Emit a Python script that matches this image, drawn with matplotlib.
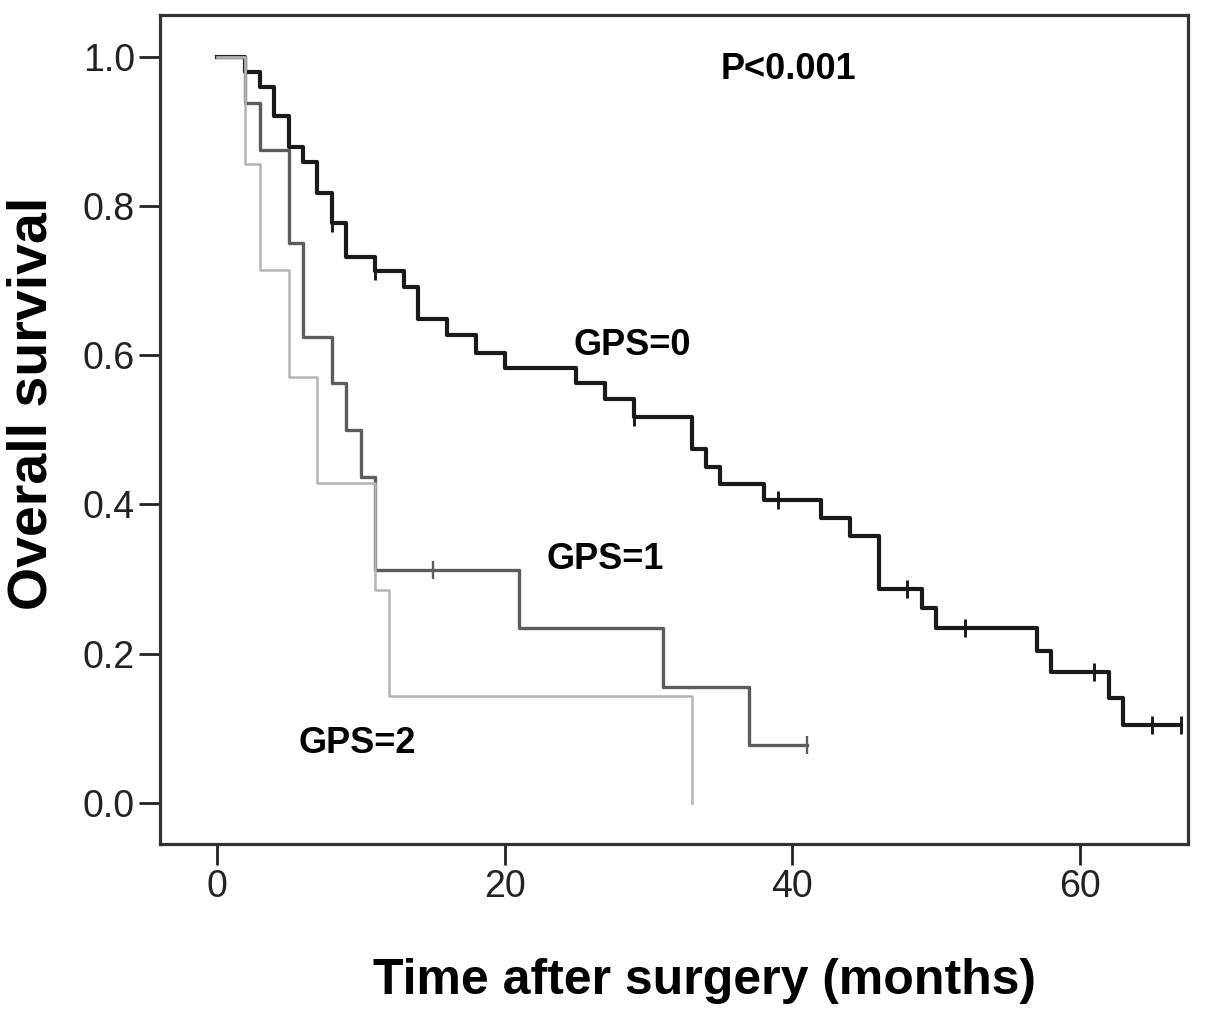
import numpy as np
import matplotlib
matplotlib.use('Agg')
import matplotlib.pyplot as plt

plt.rcParams['font.family'] = ['Liberation Sans', 'DejaVu Sans']

# Kaplan-Meier curves (months, survival after each event)
gps0_times = [2, 3, 4, 5, 6, 7, 8, 9, 11, 13, 14, 16, 18, 20, 25, 27, 29, 33, 34, 35,
              38, 42, 44, 46, 49, 50, 57, 58, 62, 63]
gps0_surv = [0.98, 0.96, 0.92, 0.879, 0.859, 0.818, 0.777, 0.732, 0.713, 0.692, 0.649,
             0.627, 0.603, 0.583, 0.563, 0.542, 0.517, 0.475, 0.450, 0.428,
             0.406, 0.382, 0.358, 0.287, 0.261, 0.235, 0.204, 0.176, 0.141, 0.105]
gps0_censor = [8, 11, 29, 39, 48, 52, 61, 65, 67]
gps0_end = 67

gps1_times = [2, 3, 5, 6, 8, 9, 10, 11, 21, 31, 37]
gps1_surv = [0.9375, 0.875, 0.75, 0.625, 0.5625, 0.5, 0.4375, 0.3125, 0.234, 0.156, 0.078]
gps1_censor = [15, 41]
gps1_end = 41

gps2_times = [2, 3, 5, 7, 11, 12, 33]
gps2_surv = [0.857, 0.714, 0.571, 0.429, 0.286, 0.143, 0.0]
gps2_censor = []
gps2_end = 33

curves = [
    ('GPS=0', gps0_times, gps0_surv, gps0_censor, gps0_end, '#1a1a1a', 3.0),
    ('GPS=1', gps1_times, gps1_surv, gps1_censor, gps1_end, '#5c5c5c', 2.4),
    ('GPS=2', gps2_times, gps2_surv, gps2_censor, gps2_end, '#b4b4b4', 1.8),
]


def km_at(times, surv, t):
    s = 1.0
    for ti, si in zip(times, surv):
        if ti <= t:
            s = si
    return s


fig = plt.figure(figsize=(12.05, 10.22), dpi=100)
ax = fig.add_axes([0.1328, 0.1742, 0.8531, 0.8111])

for z, (name, times, surv, cens, tend, col, lw) in enumerate(curves):
    x = np.r_[0, times, tend]
    y = np.r_[1.0, surv, surv[-1]]
    ax.step(x, y, where='post', color=col, lw=lw, zorder=2 + z)
    if cens:
        cy = [km_at(times, surv, c) for c in cens]
        ax.plot(cens, cy, ls='none', marker='|', ms=13, mew=lw * 0.7,
                color=col, zorder=2 + z)

ax.set_xlim(-3.94, 67.5)
ax.set_ylim(-0.055, 1.056)
ax.set_xticks([0, 20, 40, 60])
ax.set_yticks([0.0, 0.2, 0.4, 0.6, 0.8, 1.0])
ax.set_yticklabels(['%.1f' % v for v in [0.0, 0.2, 0.4, 0.6, 0.8, 1.0]])
ax.tick_params(direction='out', length=15, width=2, labelsize=27, pad=3,
               colors='#222222')
for sp in ax.spines.values():
    sp.set_linewidth(2.3)
    sp.set_color('#333333')

ax.set_xlabel('Time after surgery (months)', fontsize=36, fontweight='bold')
ax.xaxis.set_label_coords(0.530, -0.165)
ax.xaxis.label.set_va('center')
ax.set_ylabel('Overall survival', fontsize=40, fontweight='bold')
ax.yaxis.set_label_coords(-0.1245, 0.532)
ax.yaxis.label.set_va('center')

ax.text(39.7, 0.983, 'P<0.001', fontsize=26, fontweight='bold', ha='center', va='center')
ax.text(28.9, 0.613, 'GPS=0', fontsize=26, fontweight='bold', ha='center', va='center')
ax.text(27.0, 0.326, 'GPS=1', fontsize=26, fontweight='bold', ha='center', va='center')
ax.text(9.75, 0.080, 'GPS=2', fontsize=26, fontweight='bold', ha='center', va='center')

fig.savefig('out.png', dpi=100, facecolor='white')
